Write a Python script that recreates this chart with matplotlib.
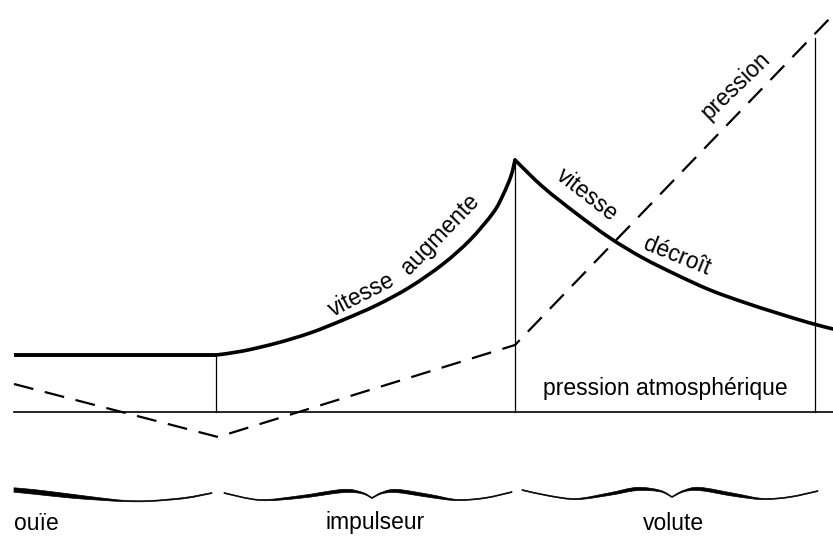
import matplotlib.pyplot as plt
from matplotlib.path import Path
from matplotlib.patches import PathPatch
import numpy as np

plt.rcParams["font.family"] = ["Liberation Sans", "DejaVu Sans"]

vit_plat_x = [14, 216]
vit_plat_y = [355, 355]
vit_monte_x = [216, 243, 277, 310, 343, 377, 410, 443, 470, 493, 503, 511, 515]
vit_monte_y = [355, 351, 343, 333, 320, 305, 287, 264, 240, 213, 195, 176, 160]
vit_desc_x = [515, 543, 577, 610, 643, 677, 710, 743, 777, 810, 833]
vit_desc_y = [160, 187, 214, 238, 258, 275, 290, 302, 313, 323, 329]
pression_x = [14, 218, 515, 833]
pression_y = [384, 437, 345, 15]
base_x = [14, 833]
base_y = [412, 412]
# traits verticaux : (x, haut, bas)
verticales = [(216, 355, 412), (515, 160, 412), (815, 38, 412)]

# accolades : segments lisses de (x, y, demi-épaisseur)
accolades = [
    [[(14, 490, 2.2), (35, 492, 2.3), (70, 496, 2.0), (100, 499, 1.2),
      (125, 501, 0.6), (150, 501, 0.5), (185, 498, 0.6), (212, 493, 0.5)]],
    [[(224, 493, 0.5), (260, 500, 0.5), (300, 497, 1.3), (343, 491, 1.6),
      (362, 493, 0.8), (372, 498, 0.5)],
     [(372, 498, 0.5), (382, 493, 0.8), (397, 491, 1.6), (430, 496, 1.5),
      (457, 500, 0.6), (485, 498, 0.5), (512, 492, 0.5)]],
    [[(522, 490, 0.5), (550, 496, 0.5), (577, 499, 0.6), (610, 494, 1.3),
      (637, 489, 1.6), (660, 491, 0.8), (672, 497, 0.5)],
     [(672, 497, 0.5), (684, 491, 0.8), (700, 489, 1.6), (735, 495, 1.5),
      (763, 499, 0.6), (790, 497, 0.5), (818, 491, 0.5)]],
]
noms_zones = ["ouïe", "impulseur", "volute"]
noms_x = [14, 375, 673]


def bezier_lisse(pts):
    """courbe lisse (Catmull-Rom) passant par les points"""
    pts = np.asarray(pts, dtype=float)
    p = np.vstack([pts[0], pts, pts[-1]])
    verts = [pts[0]]
    codes = [Path.MOVETO]
    for i in range(1, len(p) - 2):
        c1 = p[i] + (p[i + 1] - p[i - 1]) / 6
        c2 = p[i + 1] - (p[i + 2] - p[i]) / 6
        verts += [c1, c2, p[i + 1]]
        codes += [Path.CURVE4] * 3
    return verts, codes


def courbe(ax, xs, ys, lw):
    verts, codes = bezier_lisse(list(zip(xs, ys)))
    ax.add_patch(PathPatch(Path(verts, codes), fill=False, lw=lw,
                           edgecolor="black", capstyle="round", joinstyle="round"))


def accolade(ax, seg):
    haut = [(x, y - t) for x, y, t in seg]
    bas = [(x, y + t) for x, y, t in seg][::-1]
    v1, c1 = bezier_lisse(haut)
    v2, c2 = bezier_lisse(bas)
    c2[0] = Path.LINETO
    verts = v1 + v2 + [v1[0]]
    codes = c1 + c2 + [Path.CLOSEPOLY]
    ax.add_patch(PathPatch(Path(verts, codes), facecolor="black",
                           edgecolor="black", lw=0.5))


fig = plt.figure(figsize=(8.33, 5.4), dpi=100)
ax = fig.add_axes([0, 0, 1, 1])
ax.set_xlim(0, 833)
ax.set_ylim(540, 0)
ax.axis("off")

ax.plot(base_x, base_y, color="black", lw=1.2)
for x, y0, y1 in verticales:
    ax.plot([x, x], [y0, y1], color="black", lw=0.9)

ax.plot(vit_plat_x, vit_plat_y, color="black", lw=2.8, solid_capstyle="butt")
courbe(ax, vit_monte_x, vit_monte_y, 2.6)
courbe(ax, vit_desc_x, vit_desc_y, 2.6)

ax.plot(pression_x, pression_y, color="black", lw=1.6, dashes=(9, 5.3))

for acc in accolades:
    for seg in acc:
        accolade(ax, seg)

fs = 16.5
ax.text(362, 295, "vitesse", rotation=27, fontsize=fs, ha="center", va="center",
        rotation_mode="anchor")
ax.text(440, 234, "augmente", rotation=46, fontsize=fs, ha="center", va="center",
        rotation_mode="anchor")
ax.text(587, 195, "vitesse", rotation=-38, fontsize=fs, ha="center", va="center",
        rotation_mode="anchor")
ax.text(677, 256, "décroît", rotation=-22, fontsize=fs, ha="center", va="center",
        rotation_mode="anchor")
ax.text(736, 86, "pression", rotation=44, fontsize=fs, ha="center", va="center",
        rotation_mode="anchor")
ax.text(665, 388, "pression atmosphérique", fontsize=fs, ha="center", va="center")

for nom, x in zip(noms_zones, noms_x):
    ax.text(x, 523, nom, fontsize=fs, ha="left" if x < 50 else "center", va="center")

fig.savefig("out.png", dpi=100)
